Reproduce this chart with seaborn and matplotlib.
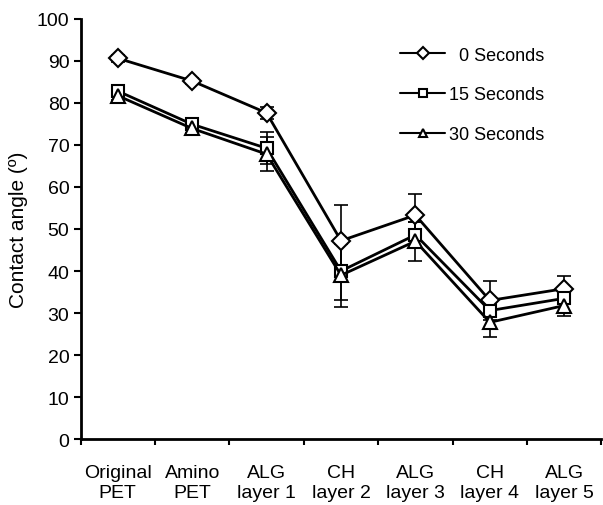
import numpy as np
import pandas as pd
import seaborn as sns
import matplotlib.pyplot as plt

# categorii si valori
layers = ["Original\nPET", "Amino\nPET", "ALG\nlayer 1", "CH\nlayer 2",
          "ALG\nlayer 3", "CH\nlayer 4", "ALG\nlayer 5"]
series_names = ["  0 Seconds", "15 Seconds", "30 Seconds"]
angle_0s = [90.6, 85.2, 77.6, 47.2, 53.3, 33.0, 35.8]
angle_15s = [82.8, 74.9, 69.2, 40.0, 48.6, 30.6, 33.5]
angle_30s = [81.7, 73.9, 67.8, 39.0, 47.1, 27.8, 31.8]
err_0s = [0.8, 0.8, 1.5, 8.6, 5.0, 4.7, 3.0]
err_15s = [1.0, 1.0, 3.8, 7.0, 3.0, 1.5, 1.2]
err_30s = [1.0, 1.0, 4.0, 7.5, 4.6, 3.6, 2.6]

values = [angle_0s, angle_15s, angle_30s]
errors = [err_0s, err_15s, err_30s]

rows = []
for name, vals in zip(series_names, values):
    for i, v in enumerate(vals):
        rows.append({"layer": i, "angle": v, "time": name})
df = pd.DataFrame(rows)

sns.set_style("ticks", {"text.color": "black", "axes.labelcolor": "black",
                        "xtick.color": "black", "ytick.color": "black",
                        "axes.edgecolor": "black"})
plt.rcParams['font.family'] = ['Liberation Sans', 'DejaVu Sans']

fig = plt.figure(figsize=(6.03, 5.06), dpi=100)
ax = fig.add_axes([0.1335, 0.130, 0.864, 0.831])

# bare de eroare
for vals, errs in zip(values, errors):
    ax.errorbar(range(len(layers)), vals, yerr=errs, fmt='none', ecolor='black',
                elinewidth=1.2, capsize=5, capthick=1.2, zorder=2)

sns.lineplot(data=df, x="layer", y="angle", style="time", markers=["D", "s", "^"],
             dashes=False, color="black", linewidth=2, markersize=9,
             markerfacecolor="white", markeredgecolor="black", markeredgewidth=1.5,
             ax=ax, zorder=3)

# marimi diferite pentru markere
for ln in ax.get_lines():
    if ln.get_marker() == 's':
        ln.set_markersize(8)
    elif ln.get_marker() == '^':
        ln.set_markersize(10)

ax.set_xlim(-0.5, len(layers) - 0.5)
ax.set_ylim(0, 100)
ax.set_yticks(np.arange(0, 101, 10))
ax.set_xticks(np.arange(-0.5, len(layers), 1))
ax.set_xticklabels([])
ax.set_xticks(range(len(layers)), minor=True)
ax.set_xticklabels(layers, minor=True, fontsize=14)
ax.tick_params(axis='x', which='minor', length=0, pad=18)
ax.tick_params(axis='x', which='major', length=4, width=1.5, direction='out')
ax.tick_params(axis='y', length=5, width=1.5, labelsize=14, direction='out', pad=3)
for lbl in ax.get_xticklabels(minor=True):
    lbl.set_linespacing(1.25)

sns.despine(ax=ax)
ax.spines['left'].set_linewidth(2)
ax.spines['bottom'].set_linewidth(2)

ax.set_xlabel("")
ax.set_ylabel("Contact angle (º)", fontsize=15, labelpad=6)

leg = ax.legend(loc='upper right', frameon=False, fontsize=13, handlelength=2.5,
                labelspacing=1.25, handletextpad=0.2, borderpad=0,
                bbox_to_anchor=(0.907, 0.955))
for h in leg.legend_handles:
    h.set_linewidth(1.5)
    h.set_markersize(6)
    h.set_markerfacecolor("white")
    h.set_markeredgecolor("black")

fig.savefig("out.png", dpi=100)
